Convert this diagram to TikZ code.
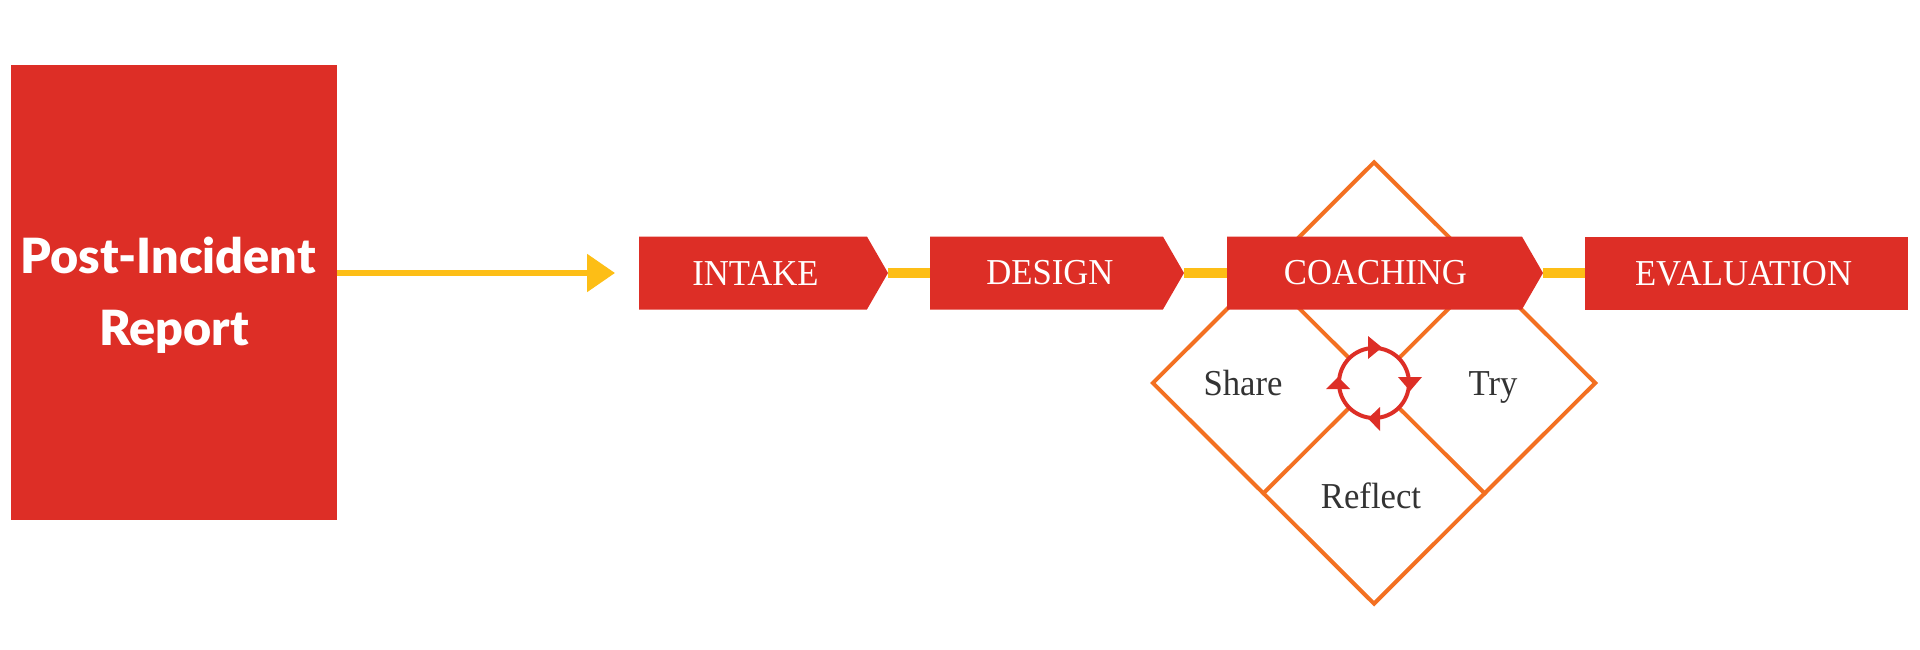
\documentclass[tikz,border=0pt]{standalone}
\usepackage{fontspec}
\setmainfont[FakeStretch=0.95]{Liberation Serif}
\newfontfamily\headfont{Lato Black}
\usetikzlibrary{shapes.geometric,shapes.symbols,arrows.meta,backgrounds}
\definecolor{cred}{HTML}{DD2E26}
\definecolor{cyellow}{HTML}{FDBE16}
\definecolor{corange}{HTML}{F37021}
\definecolor{cdark}{HTML}{333333}
\tikzset{
  x=1pt,y=-1pt,
  stage/.style={shape=signal,signal to=east,signal from=nowhere,signal pointer angle=120,fill=cred,text=white,inner sep=0pt,outer sep=0pt,minimum height=73pt,anchor=west,font=\fontsize{36.5pt}{40pt}\selectfont},
  endbox/.style={rectangle,fill=cred,text=white,inner sep=0pt,outer sep=0pt,minimum height=73pt,font=\fontsize{36.5pt}{40pt}\selectfont},
  link/.style={draw=cyellow,line width=10pt},
  part/.style={text=cdark,inner sep=0pt,anchor=base,font=\fontsize{36.5pt}{40pt}\selectfont},
  gridline/.style={draw=corange,line width=4pt},
  turn/.style={fill=cred},
}
\begin{document}
\begin{tikzpicture}
\useasboundingbox (0,0) rectangle (1920,650);
\node[fill=cred,inner sep=0pt,outer sep=0pt,minimum width=326pt,minimum height=455pt] (report) at (174,292.5) {};
\node[text=white,inner sep=0pt,anchor=base] (reportline) at (168,273.5) {\headfont\fontsize{48.5pt}{60pt}\selectfont Post-Incident};
\node[text=white,inner sep=0pt,anchor=base] (reportlineb) at (174,345) {\headfont\fontsize{48.5pt}{60pt}\selectfont Report};
\coordinate (arrowend) at (615,273);
\draw[draw=cyellow,line width=5.5pt,-{Triangle[length=28pt,width=37pt]}] (report.east |- arrowend) -- (arrowend);
\node[diamond,draw=corange,line width=4pt,inner sep=0pt,minimum width=444pt,minimum height=443pt,aspect=1] (loop) at (1374,383) {};
\draw[gridline] (loop.north west) -- (loop.south east);
\draw[gridline] (loop.north east) -- (loop.south west);
\node[stage,minimum width=249pt] (intake) at (639,273) {\hspace*{5pt}INTAKE};
\node[stage,minimum width=254pt] (design) at (930,273) {\hspace*{7pt}DESIGN};
\node[stage,minimum width=316pt] (coaching) at (1227,273) {\hspace*{2pt}COACHING};
\node[endbox,minimum width=323pt] (evaluation) at (1746.5,273.5) {EVALUATION\hspace*{6pt}};
\begin{scope}[on background layer]
\draw[link] (intake.east) -- (design.west);
\draw[link] (design.east) -- (coaching.west);
\draw[link] (coaching.east) -- (evaluation.west |- coaching.east);
\end{scope}
\node[part] (share) at (1243,395) {Share};
\node[part] (try) at (1493,395) {Try};
\node[part] (reflect) at (1371,508) {Reflect};
\node[circle,draw=cred,fill=white,line width=4pt,inner sep=0pt,minimum size=70pt] (cycle) at (1374,383) {};
\fill[turn] (1368,336) -- (1382,347.5) -- (1368,359) -- cycle;
\fill[turn] (1398,377) -- (1422,377) -- (1410,391) -- cycle;
\fill[turn] (1380,407) -- (1368,418.5) -- (1380,431) -- cycle;
\fill[turn] (1326,389) -- (1350,389) -- (1338,377) -- cycle;
\end{tikzpicture}
\end{document}
